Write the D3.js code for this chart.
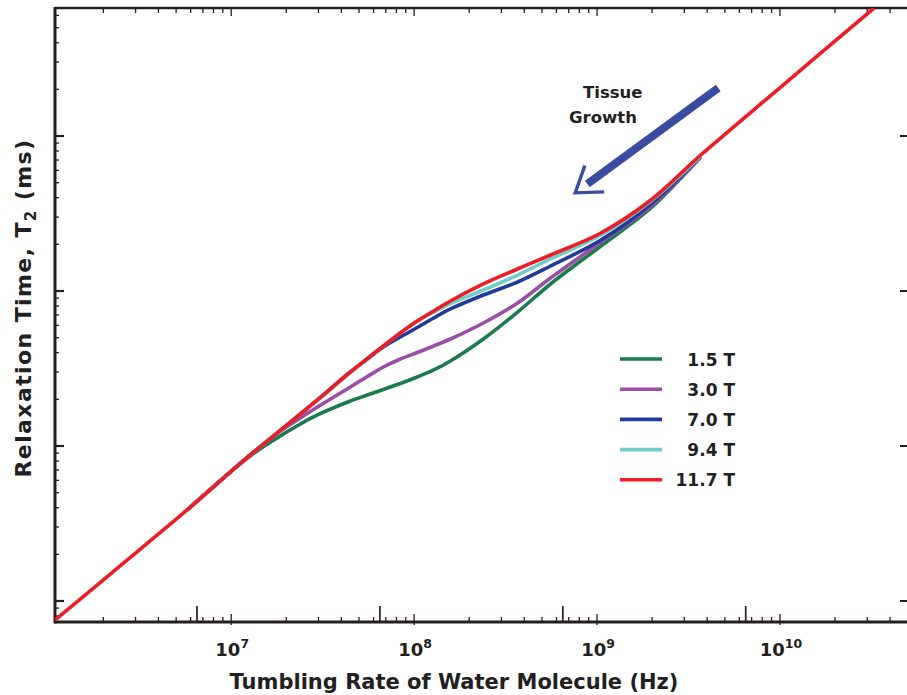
<!DOCTYPE html>
<html>
<head>
  <title>Relaxation time vs tumbling rate</title>
  <script src="https://d3js.org/d3.v7.min.js"></script>
  <style>
    body { margin: 0; background: #fff; font-family: "DejaVu Sans", Verdana, sans-serif; }
    .frame { stroke: #231f20; fill: none; }
    .tick { stroke: #231f20; stroke-width: 1.3; }
    .lbl { font-weight: bold; fill: #231f20; }
  </style>
</head>
<body>
  <div id="chart"></div>
  <script>
    // tumbling rate (Hz) sampled for the field curves
    const rates = [5.74e6, 1.27e7, 1.93e7, 2.39e7, 2.96e7, 4.48e7, 5.55e7, 6.79e7, 8.41e7,
                   1.04e8, 1.28e8, 1.58e8, 2.39e8, 3.68e8, 5.57e8, 1.05e9, 1.97e9, 3.69e9];
    // T2 (ms)
    const t2_15 = [3.865, 8.62, 11.95, 13.87, 15.85, 19.51, 21.33, 23.14, 25.31,
                   27.87, 30.93, 35.36, 49.01, 73.18, 111.0, 195.2, 343.1, 731.9];
    const t2_30 = [3.865, 8.75, 12.87, 15.16, 17.85, 24.03, 28.08, 32.34, 36.41,
                   40.11, 44.19, 49.01, 62.17, 83.69, 121.3, 207.1, 353.5, 731.9];
    const t2_70 = [3.865, 8.75, 13.07, 16.09, 19.81, 30.02, 36.41, 43.52, 50.5,
                   58.15, 66.97, 76.55, 94.23, 114.3, 145.0, 213.3, 364.2, 743];
    const t2_94 = [3.865, 8.75, 13.07, 16.09, 19.81, 30.02, 36.69, 44.19, 53.58,
                   64.04, 73.2, 83.1, 101.5, 126.8, 160.9, 229.8, 380.8, 743];
    // the 11.7 T curve covers the whole range
    const ratesRed = [1.09e6, 2.47e6, 5.74e6, 1.27e7, 1.93e7, 2.39e7, 2.96e7, 4.48e7, 5.55e7, 6.79e7,
                      8.41e7, 1.04e8, 1.28e8, 1.58e8, 2.39e8, 3.68e8, 5.57e8, 1.05e9, 1.97e9, 3.69e9,
                      1.01e10, 3.27e10];
    const t2_117 = [0.754, 1.685, 3.865, 8.75, 13.07, 16.09, 19.81, 30.02, 36.69, 44.19,
                    53.58, 64.04, 74.3, 86.19, 111.0, 138.7, 170.8, 236.7, 386.5, 754.2,
                    2070, 6698];

    const fields = ["1.5 T", "3.0 T", "7.0 T", "9.4 T", "11.7 T"];
    const colors = ["#1b7a4e", "#9a4ea6", "#213a99", "#72cccc", "#ee1c25"];
    const xDecades = [1e7, 1e8, 1e9, 1e10];

    const W = 907, H = 695;
    const pLeft = 55, pRight = 907, pTop = 8, pBottom = 622;

    const x = d3.scaleLog().domain([1.088e6, 4.95e10]).range([pLeft, pRight]);
    const y = d3.scaleLog().domain([0.7318, 6699]).range([pBottom, pTop]);

    const svg = d3.select("#chart").append("svg")
      .attr("width", W).attr("height", H);

    svg.append("defs").append("clipPath").attr("id", "plot")
      .append("rect").attr("x", pLeft).attr("y", pTop)
      .attr("width", pRight - pLeft).attr("height", pBottom - pTop);

    // log tick values
    const logTicks = (lo, hi) => {
      const out = [];
      for (let n = Math.floor(Math.log10(lo)); n <= Math.ceil(Math.log10(hi)); n++) {
        for (let k = 1; k <= 9; k++) {
          const v = k * Math.pow(10, n);
          if (v >= lo && v <= hi) out.push({ v, major: k === 1 });
        }
      }
      return out;
    };
    const xt = logTicks(x.domain()[0], x.domain()[1]);
    const yt = logTicks(y.domain()[0], y.domain()[1]);

    // bottom / top axis ticks
    const gt = svg.append("g");
    xt.forEach(t => {
      const px = x(t.v);
      gt.append("line").attr("class", "tick")
        .attr("x1", px).attr("x2", px)
        .attr("y1", pBottom + (t.major ? 3 : 0)).attr("y2", pBottom - (t.major ? 8 : 5));
      gt.append("line").attr("class", "tick")
        .attr("x1", px).attr("x2", px)
        .attr("y1", pTop).attr("y2", pTop + (t.major ? 8 : 5));
    });
    // taller marks just below each decade on the bottom axis
    d3.range(6, 11).forEach(n => {
      const v = 6.5 * Math.pow(10, n);
      if (v > x.domain()[1]) return;
      const px = x(v);
      gt.append("line").attr("class", "tick").style("stroke-width", 1.7)
        .attr("x1", px).attr("x2", px).attr("y1", pBottom).attr("y2", pBottom - 16);
    });
    // left / right axis ticks
    yt.forEach(t => {
      const py = y(t.v);
      gt.append("line").attr("class", "tick").style("stroke-width", t.major ? 2.2 : 1.3)
        .attr("x1", pLeft).attr("x2", pLeft + (t.major ? 9 : 4))
        .attr("y1", py).attr("y2", py);
      if (t.major) {
        gt.append("line").attr("class", "tick").style("stroke-width", 2)
          .attr("x1", pRight).attr("x2", pRight - 7)
          .attr("y1", py).attr("y2", py);
      }
    });

    // frame
    svg.append("line").attr("class", "frame").attr("stroke-width", 3)
      .attr("x1", pLeft).attr("x2", pLeft).attr("y1", pTop - 1).attr("y2", pBottom + 1.5);
    svg.append("line").attr("class", "frame").attr("stroke-width", 3)
      .attr("x1", pLeft).attr("x2", pRight).attr("y1", pBottom).attr("y2", pBottom);
    svg.append("line").attr("class", "frame").attr("stroke-width", 2.5)
      .attr("x1", pLeft).attr("x2", pRight).attr("y1", pTop).attr("y2", pTop);

    // x tick labels
    xDecades.forEach(v => {
      const t = svg.append("text").attr("class", "lbl")
        .attr("x", x(v) + 1).attr("y", 656)
        .attr("text-anchor", "middle").style("font-size", "18px");
      t.append("tspan").text("10");
      t.append("tspan").attr("dy", -8).style("font-size", "12.5px")
        .text(String(Math.round(Math.log10(v))));
    });

    // curves
    const line = d3.line()
      .x(d => x(d[0])).y(d => y(d[1]))
      .curve(d3.curveCatmullRom.alpha(0.5));

    const seriesData = [
      d3.zip(rates, t2_15),
      d3.zip(rates, t2_30),
      d3.zip(rates, t2_70),
      d3.zip(rates, t2_94),
      d3.zip(ratesRed, t2_117)
    ];

    const gl = svg.append("g").attr("clip-path", "url(#plot)");
    seriesData.forEach((d, i) => {
      gl.append("path").datum(d)
        .attr("d", line)
        .attr("fill", "none")
        .attr("stroke", colors[i])
        .attr("stroke-width", 3.6)
        .attr("stroke-linejoin", "round");
    });

    // legend
    const lg = svg.append("g");
    fields.forEach((f, i) => {
      const ly = 359 + i * 30.2;
      lg.append("line").attr("x1", 620).attr("x2", 662)
        .attr("y1", ly).attr("y2", ly)
        .attr("stroke", colors[i]).attr("stroke-width", 3.6);
      lg.append("text").attr("class", "lbl")
        .attr("x", 735).attr("y", ly + 6.5)
        .attr("text-anchor", "end").style("font-size", "17px")
        .text(f);
    });

    // tissue growth arrow
    const a0 = [x(4.6e9), y(2040)], a1 = [x(7.6e8), y(430)];
    const ang = Math.atan2(a0[1] - a1[1], a0[0] - a1[0]);
    const shaftEnd = [a1[0] + 15 * Math.cos(ang), a1[1] + 15 * Math.sin(ang)];
    const arrowColor = "#3a4ca2";
    svg.append("line")
      .attr("x1", a0[0]).attr("y1", a0[1])
      .attr("x2", shaftEnd[0]).attr("y2", shaftEnd[1])
      .attr("stroke", arrowColor).attr("stroke-width", 8);
    const head = [-0.6, 0.6].map(da => [a1[0] + 29 * Math.cos(ang + da), a1[1] + 29 * Math.sin(ang + da)]);
    svg.append("path")
      .attr("d", `M${head[0][0]},${head[0][1]}L${a1[0]},${a1[1]}L${head[1][0]},${head[1][1]}`)
      .attr("fill", "none").attr("stroke", arrowColor)
      .attr("stroke-width", 3.4).attr("stroke-linejoin", "miter");

    svg.append("text").attr("class", "lbl").attr("x", 583).attr("y", 98)
      .style("font-size", "16.5px").text("Tissue");
    svg.append("text").attr("class", "lbl").attr("x", 569).attr("y", 123)
      .style("font-size", "16.5px").text("Growth");

    // axis titles
    svg.append("text").attr("class", "lbl")
      .attr("x", 454).attr("y", 689)
      .attr("text-anchor", "middle").style("font-size", "21px")
      .text("Tumbling Rate of Water Molecule (Hz)");

    const yl = svg.append("text").attr("class", "lbl")
      .attr("transform", "translate(31,308) rotate(-90)")
      .attr("text-anchor", "middle").style("font-size", "22px")
      .style("letter-spacing", "1.4px");
    yl.append("tspan").text("Relaxation Time, T");
    yl.append("tspan").attr("dy", 5).style("font-size", "15px").text("2");
    yl.append("tspan").attr("dy", -5).text(" (ms)");
  </script>
</body>
</html>
